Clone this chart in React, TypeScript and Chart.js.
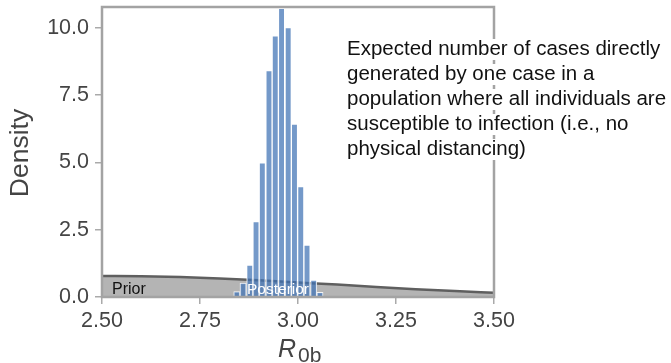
import React, { useEffect, useRef } from "react";
import { Chart, registerables } from "chart.js";

Chart.register(...registerables);

// Posterior histogram (bin centres on R0b axis, density)
const BIN_CENTERS = [2.844, 2.860, 2.877, 2.893, 2.909, 2.926, 2.942, 2.958, 2.975, 2.991, 3.007, 3.023, 3.040, 3.056];
const POSTERIOR_DENSITY = [0.2, 0.52, 1.19, 2.8, 4.98, 8.41, 9.7, 10.72, 10.01, 6.42, 4.1, 1.93, 0.63, 0.17];

// Prior density curve (read at sample points)
const PRIOR_X = [2.5, 2.6, 2.7, 2.8, 2.9, 3.0, 3.1, 3.2, 3.3, 3.4, 3.5];
const PRIOR_DENSITY = [0.78, 0.77, 0.74, 0.69, 0.62, 0.54, 0.46, 0.37, 0.29, 0.22, 0.16];

const X_TICKS = [2.5, 2.75, 3.0, 3.25, 3.5];
const Y_TICKS = [0, 2.5, 5, 7.5, 10];

const ANNOTATION_LINES = [
  "Expected number of cases directly",
  "generated by one case in a",
  "population where all individuals are",
  "susceptible to infection (i.e., no",
  "physical distancing)",
];

const FONT = "'Liberation Sans', Arial, Helvetica, sans-serif";
const TEXT_GRAY = "#444";

const overlayPlugin = {
  id: "overlay",
  afterDatasetsDraw(chart: any) {
    const { ctx, chartArea } = chart;
    ctx.save();
    ctx.textBaseline = "alphabetic";
    ctx.textAlign = "left";
    ctx.font = `16px ${FONT}`;
    ctx.fillStyle = "#111";
    ctx.fillText("Prior", chartArea.left + 10, 294);
    ctx.font = `15.5px ${FONT}`;
    ctx.fillStyle = "#fff";
    ctx.fillText("Posterior", 247, 294);
    ctx.strokeStyle = "#a3a3a3";
    ctx.lineWidth = 2.5;
    ctx.strokeRect(chartArea.left, chartArea.top, chartArea.right - chartArea.left, chartArea.bottom - chartArea.top);
    ctx.restore();
  },
  afterDraw(chart: any) {
    const { ctx } = chart;
    ctx.save();
    ctx.fillStyle = TEXT_GRAY;
    ctx.font = `26.5px ${FONT}`;
    ctx.translate(28, 153);
    ctx.rotate(-Math.PI / 2);
    ctx.textAlign = "center";
    ctx.textBaseline = "alphabetic";
    ctx.fillText("Density", 0, 0);
    ctx.restore();

    ctx.save();
    ctx.fillStyle = TEXT_GRAY;
    ctx.textAlign = "left";
    ctx.textBaseline = "alphabetic";
    ctx.font = `italic 25px ${FONT}`;
    ctx.fillText("R", 278, 357);
    ctx.font = `21px ${FONT}`;
    ctx.fillText("0b", 298, 362);

    ctx.font = `20.5px ${FONT}`;
    const x0 = 347;
    ANNOTATION_LINES.forEach((line, i) => {
      const base = 55 + i * 25;
      const w = ctx.measureText(line).width;
      ctx.fillStyle = "#fff";
      ctx.fillRect(x0 - 2, base - 16, w + 4, 21);
      ctx.fillStyle = "#111";
      ctx.fillText(line, x0, base);
    });
    ctx.restore();
  },
};

export default function App() {
  const canvasRef = useRef<HTMLCanvasElement | null>(null);

  useEffect(() => {
    if (!canvasRef.current) return;
    const barData = BIN_CENTERS.map((x, i) => ({ x, y: POSTERIOR_DENSITY[i] }));
    const priorData = PRIOR_X.map((x, i) => ({ x, y: PRIOR_DENSITY[i] }));

    const chart = new Chart(canvasRef.current, {
      type: "bar",
      data: {
        datasets: [
          {
            type: "bar",
            label: "Posterior",
            data: barData as any,
            backgroundColor: "rgba(62,114,180,0.72)",
            borderColor: "rgba(255,255,255,0.85)",
            borderWidth: 1,
            barPercentage: 1,
            categoryPercentage: 1,
            order: 1,
          } as any,
          {
            type: "line",
            label: "Prior",
            data: priorData as any,
            borderColor: "#5f5f5f",
            borderWidth: 2.5,
            backgroundColor: "#b4b4b4",
            fill: "origin",
            pointRadius: 0,
            cubicInterpolationMode: "monotone",
            order: 2,
          } as any,
        ],
      },
      options: {
        animation: false,
        responsive: true,
        maintainAspectRatio: false,
        layout: { padding: { top: 7, right: 177, left: 0, bottom: 0 } },
        plugins: {
          legend: { display: false },
          tooltip: { enabled: false },
        },
        scales: {
          x: {
            type: "linear",
            min: 2.5,
            max: 3.5,
            offset: false,
            afterBuildTicks: (scale: any) => {
              scale.ticks = X_TICKS.map((v) => ({ value: v }));
            },
            afterFit: (scale: any) => {
              scale.height = 66;
            },
            grid: {
              offset: false,
              drawOnChartArea: false,
              drawTicks: true,
              tickLength: 7,
              color: "#aaa",
              lineWidth: 1.5,
            },
            border: { display: false },
            ticks: {
              color: TEXT_GRAY,
              font: { size: 21.5, family: FONT },
              padding: 4,
              maxRotation: 0,
              callback: (v: any) => Number(v).toFixed(2),
            },
          },
          y: {
            type: "linear",
            min: 0,
            max: 10.77,
            afterBuildTicks: (scale: any) => {
              scale.ticks = Y_TICKS.map((v) => ({ value: v }));
            },
            afterFit: (scale: any) => {
              scale.width = 102;
              scale.paddingTop = 0;
              scale.paddingBottom = 0;
            },
            grid: {
              drawOnChartArea: false,
              drawTicks: true,
              tickLength: 7,
              color: "#aaa",
              lineWidth: 1.5,
            },
            border: { display: false },
            ticks: {
              color: TEXT_GRAY,
              font: { size: 21.5, family: FONT },
              padding: 6,
              callback: (v: any) => Number(v).toFixed(1),
            },
          },
        },
      },
      plugins: [overlayPlugin],
    } as any);

    return () => chart.destroy();
  }, []);

  return (
    <div style={{ position: "fixed", left: 0, top: 0, width: 671, height: 363, background: "#fff" }}>
      <canvas ref={canvasRef} />
    </div>
  );
}
